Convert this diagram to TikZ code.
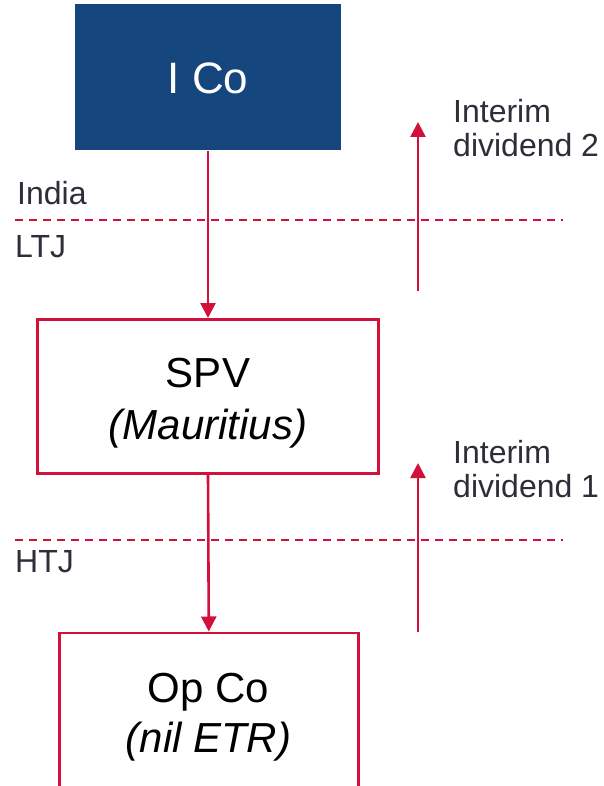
\documentclass[tikz,border=0pt]{standalone}
\usepackage{fontspec}
\setmainfont{Liberation Sans}
\usetikzlibrary{arrows.meta}
\definecolor{navy}{HTML}{15467D}
\definecolor{crimson}{HTML}{D2103C}
\definecolor{darktext}{HTML}{2E2E38}
\tikzset{
  flow/.style={draw=crimson, line width=2.6pt, -{Triangle[width=15pt,length=15pt]}},
  border/.style={dash pattern=on 8pt off 6pt, draw=crimson, line width=1.8pt},
  entity/.style={draw=crimson, line width=2.6pt, fill=white, inner sep=0pt},
  entitytext/.style={inner sep=0pt, anchor=base, font=\fontsize{42}{50}\selectfont},
  zone/.style={text=darktext, font=\fontsize{32}{36}\selectfont, inner sep=0pt, anchor=base west},
  note/.style={text=darktext, font=\fontsize{32}{34}\selectfont, align=left, inner sep=0pt, anchor=west}
}
\begin{document}
\begin{tikzpicture}[x=1pt, y=-1pt]
  \clip (0,0) rectangle (603,786);
  \fill[white] (0,0) rectangle (603,786);

  % jurisdiction borders
  \coordinate (b1l) at (15,220);
  \coordinate (b1r) at (563,220);
  \coordinate (b2l) at (15,540);
  \coordinate (b2r) at (563,540);
  \draw[border] (b1l) -- (b1r);
  \draw[border] (b2l) -- (b2r);
  \node[zone] (india) at (17,205) {India};
  \node[zone] (ltj) at (15,257) {LTJ};
  \node[zone] (htj) at (15,572) {HTJ};

  % entities
  \node[fill=navy, minimum width=266pt, minimum height=146pt, inner sep=0pt] (ico) at (208,77.5) {};
  \node[entitytext, text=white, font=\fontsize{44}{50}\selectfont] (icotext) at (208,94) {I Co};

  \node[entity, minimum width=341pt, minimum height=154pt] (spv) at (208,396.3) {};
  \node[entitytext] (spvname) at (208,387) {SPV};
  \node[entitytext, font=\fontsize{42}{50}\itshape] (spvplace) at (208,439) {(Mauritius)};

  \node[entity, anchor=north, minimum width=299pt, minimum height=230pt] (opco) at (208.8,631.5) {};
  \node[entitytext] (opconame) at (208.5,702) {Op Co};
  \node[entitytext, font=\fontsize{42}{50}\itshape] (opcoetr) at (208.5,752) {(nil ETR)};

  % investment flow
  \draw[flow] (ico.south) -- (spv.north);
  \draw[flow] (spv.south) -- (opco.north);

  % dividend flow
  \coordinate (d2s) at (418,291);
  \coordinate (d2e) at (418,122);
  \coordinate (d1s) at (418,632);
  \coordinate (d1e) at (418,463);
  \draw[flow] (d2s) -- (d2e);
  \draw[flow] (d1s) -- (d1e);
  \node[note] (div2) at (453,128) {Interim\\dividend 2};
  \node[note] (div1) at (453,469) {Interim\\dividend 1};
\end{tikzpicture}
\end{document}
